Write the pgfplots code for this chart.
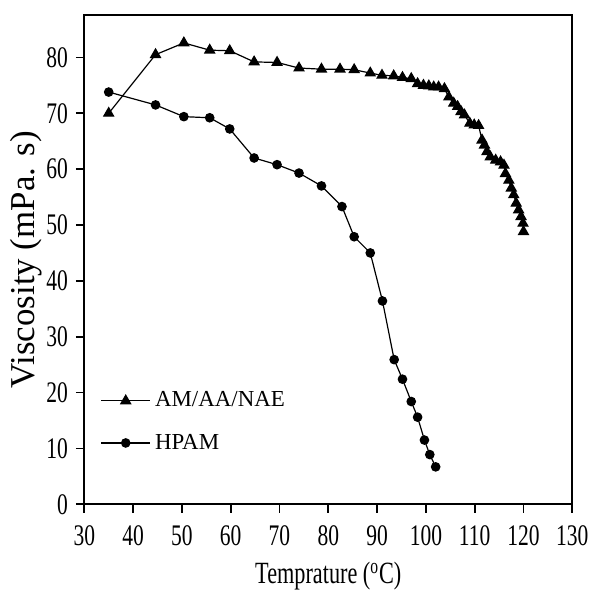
\documentclass[border=0pt]{standalone}
\usepackage{fontspec}
\setmainfont{Liberation Serif}
\newfontfamily\condfont{Liberation Serif}[FakeStretch=0.72]
\newfontfamily\condfontb{Liberation Serif}[FakeStretch=0.72]
\usepackage{pgfplots}
\pgfplotsset{compat=1.18}
\begin{document}
\begin{tikzpicture}
\useasboundingbox (-42.15bp,-45.35bp) rectangle (253.85bp,252.15bp);
\begin{axis}[
  at={(0,0)}, anchor=south west,
  scale only axis,
  width=244bp, height=244.65bp,
  xmin=30, xmax=130, ymin=0, ymax=87.6,
  xtick={30,40,...,130}, ytick={0,10,...,80},
  xtick pos=bottom, ytick pos=left,
  tick align=outside,
  major tick length=4.2bp,
  axis line style={line width=1bp},
  every tick/.style={line width=0.9bp, black},
  /pgf/number format/assume math mode=true,
  ticklabel style={font=\condfont\fontsize{15}{15}\selectfont},
  xticklabel style={yshift=-3bp},
  yticklabel style={xshift=-0.5bp},
  xlabel={Temprature (\textsuperscript{o}C)},
  ylabel={Viscosity (mPa. s)},
  xlabel style={font=\condfontb\fontsize{15.5}{15.5}\selectfont, at={(rel axis cs:0.5,0)}, anchor=center, yshift=-36bp},
  ylabel style={font=\fontsize{17.5}{17.5}\selectfont, at={(rel axis cs:0,0.5)}, anchor=center, xshift=0bp, yshift=29bp},
  legend cell align=left,
  legend style={draw=none, fill=none, at={(rel axis cs:0.02,0.247)}, anchor=north west,
    font=\fontsize{11.5}{11.5}\selectfont, row sep=8bp},
  legend image code/.code={
    \draw[#1, mark repeat=2, mark phase=2] plot coordinates {(0bp,0bp) (12.35bp,0bp) (24.7bp,0bp)};
  },
]
\addplot[black, line width=0.6bp, mark=triangle*, mark size=2.8bp, mark options={solid}] coordinates {
(35,70.0) (44.6,80.5) (50.4,82.6) (55.7,81.3) (59.8,81.2) (64.8,79.2) (69.5,79.1)
(74.0,78.1) (78.6,77.9) (82.4,77.9) (85.3,77.8) (88.6,77.2) (91.0,76.8) (93.4,76.7)
(95.2,76.4) (97.0,76.2) (98.3,75.3) (99.5,75.0) (100.6,74.9) (101.6,74.7) (102.6,74.7)
(103.8,74.4) (104.7,72.9) (105.7,71.8) (106.5,71.2) (107.2,70.3) (107.9,69.7)
(109.0,68.2) (109.9,67.9) (110.8,67.8) (111.5,65.2) (112.0,64.3) (112.5,63.1)
(113.2,62.2) (114.3,61.6) (115.3,61.3) (116.0,60.7) (116.3,59.2) (117.0,58.0)
(117.5,56.6) (118.0,55.4) (118.5,53.9) (119.0,52.7) (119.5,51.5) (119.9,50.3) (120.0,48.8)
};
\addlegendentry{AM/AA/NAE}
\addplot[black, line width=0.6bp, mark=*, mark size=2.1bp, mark options={solid}] coordinates {
(35,73.8) (44.6,71.5) (50.4,69.4) (55.7,69.2) (59.8,67.2) (64.8,62.0) (69.5,60.8)
(74.0,59.3) (78.6,57.0) (82.8,53.3) (85.3,47.9) (88.6,45.0) (91.1,36.4) (93.5,25.9)
(95.2,22.4) (97.0,18.4) (98.3,15.6) (99.7,11.5) (100.8,8.9) (102.0,6.7)
};
\addlegendentry{HPAM}
\end{axis}
\end{tikzpicture}
\end{document}
